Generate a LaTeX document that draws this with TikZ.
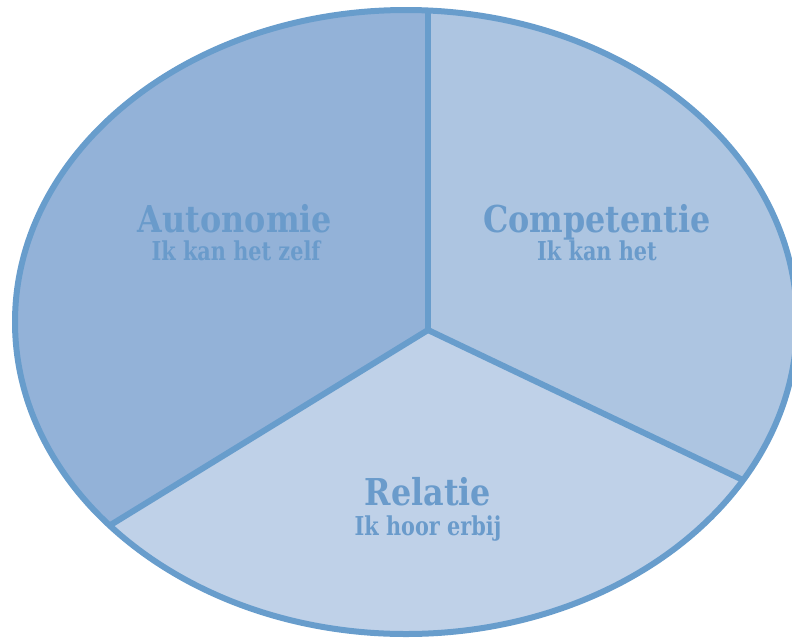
\documentclass[tikz,border=0pt]{standalone}
\usepackage{fontspec}
\newfontfamily\slab[FakeStretch=0.86]{DejaVu Serif}
\newfontfamily\slabn[FakeStretch=0.8]{DejaVu Serif}
\definecolor{edge}{HTML}{689DCC}
\definecolor{txt}{HTML}{6A9BCB}
\definecolor{fillA}{HTML}{93B2D8}
\definecolor{fillC}{HTML}{ADC5E1}
\definecolor{fillR}{HTML}{BFD1E8}
\tikzset{
  border/.style={draw=edge, line width=6pt},
  spoke/.style={draw=edge, line width=6pt, line cap=butt},
  title/.style={text=txt, font=\slab\bfseries\fontsize{37}{40}\selectfont, anchor=base, inner sep=0pt},
  subtitle/.style={text=txt, font=\slabn\bfseries\fontsize{26}{28}\selectfont, anchor=base, inner sep=0pt}
}
\begin{document}
\begin{tikzpicture}[x=1pt,y=-1pt]
\useasboundingbox (0,0) rectangle (792,641);
\coordinate (c) at (428,330);
\coordinate (top) at (428,-10);
\coordinate (lend) at (-10,599);
\coordinate (rend) at (850,531);
\begin{scope}
  \clip (406,322) ellipse [x radius=391, y radius=312];
  \fill[fillA] (c) -- (top) -- (-10,-10) -- (lend) -- cycle;
  \fill[fillC] (c) -- (top) -- (850,-10) -- (rend) -- cycle;
  \fill[fillR] (c) -- (lend) -- (-10,700) -- (850,700) -- (rend) -- cycle;
  \draw[spoke] (top) -- (c);
  \draw[spoke] (c) -- (lend);
  \draw[spoke] (c) -- (rend);
\end{scope}
\draw[border] (406,322) ellipse [x radius=391, y radius=312];
\node[title] (auto) at (235,232) {Autonomie};
\node[subtitle] (autos) at (236,260) {Ik kan het zelf};
\node[title] (comp) at (597,232) {Competentie};
\node[subtitle] (comps) at (597,260) {Ik kan het};
\node[title] (rel) at (428,505) {Relatie};
\node[subtitle] (rels) at (428,535) {Ik hoor erbij};
\end{tikzpicture}
\end{document}
